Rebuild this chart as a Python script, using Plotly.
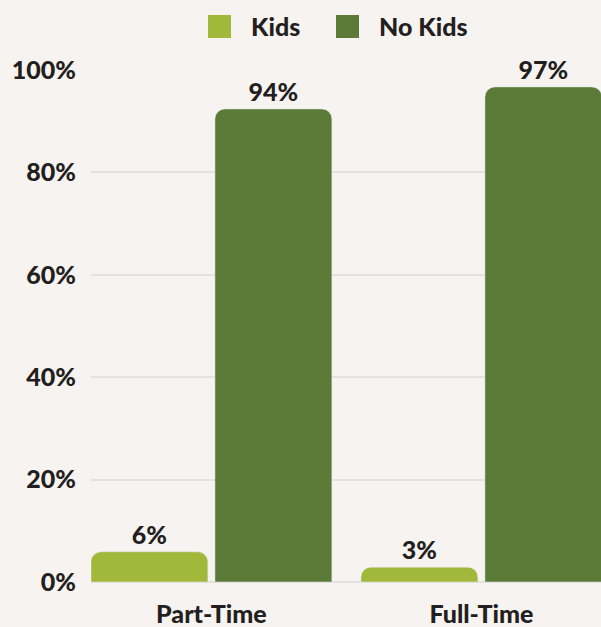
import plotly.graph_objects as go

categories = ["Part-Time", "Full-Time"]
kids_values = [5.9, 2.9]
kids_labels = ["6%", "3%"]
nokids_values = [92.4, 96.7]
nokids_labels = ["94%", "97%"]
y_ticks = [0, 20, 40, 60, 80, 100]
y_tick_labels = ["0%", "20%", "40%", "60%", "80%", "100%"]

KIDS_COLOR = "#A1B83B"
NOKIDS_COLOR = "#5C7A37"
BG = "#F7F3F0"
TXT = "#231F20"
FONT = "Lato"
FS = 25
WT = 900

fig = go.Figure()
fig.add_trace(go.Bar(x=categories, y=kids_values, name="Kids", marker_color=KIDS_COLOR,
                     text=kids_labels, textposition="outside", cliponaxis=False,
                     textfont=dict(size=FS, color=TXT, family=FONT, weight=WT)))
fig.add_trace(go.Bar(x=categories, y=nokids_values, name="No Kids", marker_color=NOKIDS_COLOR,
                     text=nokids_labels, textposition="outside", cliponaxis=False,
                     textfont=dict(size=FS, color=TXT, family=FONT, weight=WT)))

L, T, B = 91, 70, 45
W, H = 601, 627
pw, ph = W - L, H - T - B

def px_to_paper_x(px):
    return (px - L) / pw

def px_to_paper_y(py):
    return (H - B - py) / ph

# manual legend
legend_items = [("Kids", KIDS_COLOR, 208, 249), ("No Kids", NOKIDS_COLOR, 336, 377)]
shapes = []
annotations = []
for name, color, sx, tx in legend_items:
    shapes.append(dict(type="rect", xref="paper", yref="paper",
                       x0=px_to_paper_x(sx), x1=px_to_paper_x(sx + 23),
                       y0=px_to_paper_y(38), y1=px_to_paper_y(15),
                       fillcolor=color, line_width=0))
    annotations.append(dict(text=name, xref="paper", yref="paper",
                            x=px_to_paper_x(tx), y=px_to_paper_y(26),
                            xanchor="left", yanchor="middle", showarrow=False,
                            font=dict(size=FS, color=TXT, family=FONT, weight=WT)))

fig.update_layout(
    width=W, height=H,
    margin=dict(l=L, r=0, t=T, b=B),
    paper_bgcolor=BG, plot_bgcolor=BG,
    barmode="group", bargap=0.0815, bargroupgap=0.057,
    barcornerradius=10,
    showlegend=False,
    shapes=shapes, annotations=annotations,
    font=dict(family=FONT, size=FS, color=TXT, weight=WT),
    xaxis=dict(range=[-0.446, 1.443], showgrid=False, zeroline=False, showline=False,
               ticks="", ticklabelstandoff=15,
               tickfont=dict(size=FS, family=FONT, color=TXT, weight=WT)),
    yaxis=dict(range=[0, 100], tickvals=y_ticks, ticktext=y_tick_labels,
               showgrid=True, gridcolor="#E4E1E0", gridwidth=2,
               zeroline=True, zerolinecolor="#E4E1E0", zerolinewidth=2,
               showline=False, ticks="", ticklabelstandoff=14,
               tickfont=dict(size=FS, family=FONT, color=TXT, weight=WT)),
)

fig.write_html("out.html")
